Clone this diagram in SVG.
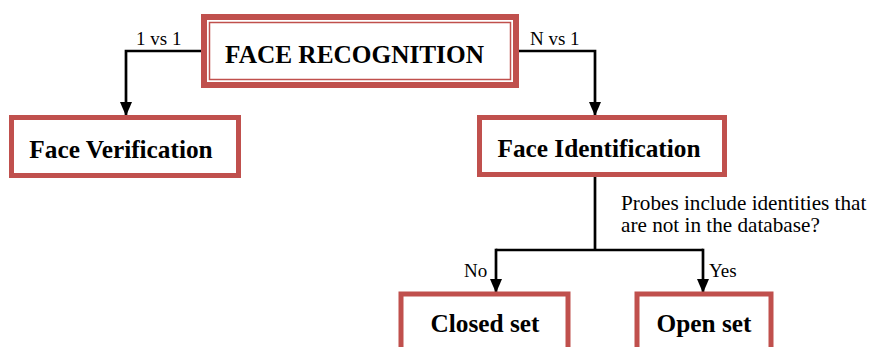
<svg xmlns="http://www.w3.org/2000/svg" width="870" height="347" viewBox="0 0 870 347">
<defs>
<style>
.box{fill:#fff;stroke:#C0504D;stroke-width:5}
.thin{fill:none;stroke:#C0504D;stroke-width:1.5}
.t{font-family:"Liberation Serif","Times New Roman",serif;font-weight:bold;font-size:25.3px;fill:#000;text-anchor:middle}
.lbl{font-family:"Liberation Serif","Times New Roman",serif;font-size:19px;fill:#000}
.q{font-family:"Liberation Serif","Times New Roman",serif;font-size:21.2px;fill:#000}
.c{fill:none;stroke:#000;stroke-width:2.7}
</style>
<marker id="ah" markerUnits="userSpaceOnUse" markerWidth="14" markerHeight="12" refX="14" refY="6" orient="auto">
<path d="M0,0 L14,6 L0,12 z" fill="#000"/>
</marker>
</defs>
<rect width="870" height="347" fill="#fff"/>
<g id="connectors">
<polyline class="c" points="204,51 126,51 126,116" marker-end="url(#ah)"/>
<polyline class="c" points="516,51 595,51 595,116" marker-end="url(#ah)"/>
<line class="c" x1="595" y1="177" x2="595" y2="250"/>
<polyline class="c" points="496,250 703,250"/>
<line class="c" x1="496" y1="248.7" x2="496" y2="293" marker-end="url(#ah)"/>
<line class="c" x1="703" y1="248.7" x2="703" y2="293" marker-end="url(#ah)"/>
<text class="lbl" x="136" y="45">1 vs 1</text>
<text class="lbl" x="530" y="45">N vs 1</text>
<text class="lbl" x="464" y="277">No</text>
<text class="lbl" x="709" y="277">Yes</text>
<text class="q" x="621" y="210">Probes include identities that</text>
<text class="q" x="621" y="232">are not in the database?</text>
</g>
<g id="face-recognition">
<rect x="204" y="17" width="312" height="68" fill="#fff" stroke="#C0504D" stroke-width="6"/>
<rect class="thin" x="209.5" y="22.5" width="301" height="57"/>
<text class="t" x="354.5" y="63" font-size="26.2">FACE RECOGNITION</text>
</g>
<g id="face-verification">
<rect class="box" x="11.5" y="117.5" width="227" height="58"/>
<text class="t" x="121" y="158">Face Verification</text>
</g>
<g id="face-identification">
<rect class="box" x="479.5" y="117.5" width="245" height="57"/>
<text class="t" x="599" y="157">Face Identification</text>
</g>
<g id="closed-set">
<rect class="box" x="401" y="294" width="167" height="70" stroke-width="4"/>
<text class="t" x="485" y="332">Closed set</text>
</g>
<g id="open-set">
<rect class="box" x="637" y="294" width="134" height="70" stroke-width="4"/>
<text class="t" x="704" y="332">Open set</text>
</g>
</svg>
